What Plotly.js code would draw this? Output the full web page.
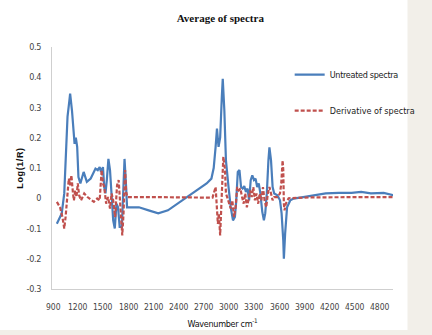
<!DOCTYPE html>
<html>
<head>
<meta charset="utf-8">
<script src="https://cdn.plot.ly/plotly-3.0.1.min.js"></script>
<style>html,body{margin:0;padding:0;background:#fff}#chart{width:432px;height:335px}
#chart .ytick text, #chart .legendtext, #chart .xtitle {letter-spacing:-0.3px}
#chart .ytitle {letter-spacing:0.6px}
</style>
</head>
<body>
<div id="chart"></div>
<script>
const untreatedX = [946,1004,1034,1061,1073,1096,1104,1126,1157,1172,1188,1203,1226,1265,1303,1349,1406,1433,1456,1472,1495,1510,1525,1541,1560,1579,1598,1617,1636,1656,1675,1694,1720,1740,1752,1771,1782,1829,1924,2039,2154,2269,2384,2499,2615,2730,2787,2814,2837,2853,2872,2891,2911,2922,2941,2960,2991,3017,3044,3067,3083,3101,3121,3140,3159,3178,3198,3217,3236,3255,3274,3294,3313,3332,3351,3370,3393,3412,3428,3447,3466,3478,3497,3516,3535,3573,3604,3623,3643,3650,3665,3688,3727,3765,3880,3995,4149,4303,4456,4571,4686,4839,4955];
const untreatedY = [-0.084,-0.05,0.016,0.17,0.27,0.325,0.346,0.29,0.18,0.20,0.17,0.07,0.049,0.087,0.054,0.065,0.098,0.093,0.103,0.087,0.103,0.037,0.016,0.06,0.13,0.093,-0.007,-0.073,-0.1,-0.018,-0.03,-0.095,-0.095,0.016,0.13,0.037,-0.03,-0.03,-0.03,-0.04,-0.05,-0.04,-0.018,0.004,0.026,0.049,0.065,0.10,0.17,0.23,0.17,0.20,0.335,0.395,0.29,0.125,0.037,-0.03,-0.073,-0.062,-0.007,0.087,0.093,0.037,0.032,0.04,0.021,0.032,-0.007,0.06,0.076,0.06,0.065,0.037,0.049,0.016,-0.045,-0.073,-0.05,0.016,0.125,0.168,0.125,0.037,0.016,0.01,-0.007,-0.05,-0.14,-0.2,-0.117,-0.03,-0.007,-0.001,0.004,0.01,0.016,0.018,0.018,0.021,0.016,0.018,0.01];
const derivativeX = [946,984,1012,1034,1050,1073,1088,1104,1119,1138,1149,1165,1180,1195,1211,1234,1272,1311,1349,1387,1426,1456,1479,1495,1510,1533,1556,1579,1598,1617,1640,1663,1682,1702,1725,1740,1759,1771,1786,2000,2400,2800,2837,2853,2864,2876,2891,2911,2929,2949,2960,2979,2998,3017,3036,3056,3075,3094,3113,3132,3152,3171,3190,3209,3228,3248,3267,3286,3305,3324,3344,3363,3382,3401,3420,3440,3459,3478,3497,3516,3535,3573,3604,3619,3635,3643,3650,3658,3673,3707,4000,4500,4955];
const derivativeY = [-0.012,-0.03,-0.062,-0.1,-0.062,0.016,0.065,0.043,0.076,0.016,-0.007,0.026,0.004,0.049,0.01,-0.007,0.016,0.004,-0.004,-0.012,-0.001,-0.007,0.093,0.049,0.037,-0.018,0.004,-0.034,0.016,-0.007,-0.062,0.043,0.06,-0.03,-0.123,-0.05,0.093,0.021,0.004,0.004,0.003,0.002,0.037,-0.03,-0.085,-0.05,-0.123,0.016,0.137,0.093,0.016,0,-0.018,-0.034,-0.007,-0.062,-0.03,0.037,0.026,0.032,0.004,-0.018,0.016,-0.03,-0.007,0.026,0.004,0.037,-0.007,0.016,-0.018,0.016,-0.007,0.037,-0.007,-0.03,0.016,0.037,0.016,-0.007,0.004,0.004,0.016,0.049,0.125,0.093,-0.018,-0.04,-0.018,0,0.003,0.004,0.004];
const xTickVals = [900,1200,1500,1800,2100,2400,2700,3000,3300,3600,3900,4200,4500,4800];
const xTickText = ["900","1200","1500","1800","2100","2400","2700","3000","3300","3600","3900","4200","4500","4800"];
const yTickVals = [0.5,0.4,0.3,0.2,0.1,0,-0.1,-0.2,-0.3];
const yTickText = ["0.5","0.4","0.3","0.2","0.1","0","-0.1","-0.2","-0.3"];

const narrow = "DejaVu Sans Condensed, Liberation Sans, sans-serif";
const traces = [
  {x: untreatedX, y: untreatedY, type: 'scatter', mode: 'lines', name: 'Untreated spectra',
   legend: 'legend', line: {color: '#4A7EBB', width: 2.2}},
  {x: derivativeX, y: derivativeY, type: 'scatter', mode: 'lines', name: 'Derivative of spectra',
   legend: 'legend2', line: {color: '#C0504D', width: 2.2, dash: '4px,2px'}}
];
const xLabelAnnotations = xTickVals.map((v, i) => ({
  x: v, xref: 'x', y: -0.076, yref: 'paper', text: xTickText[i], showarrow: false,
  xanchor: 'center', yanchor: 'middle', font: {family: narrow, size: 8.5, color: '#444'}
}));
const legendFont = {family: narrow, size: 9, color: '#222'};
const layout = {
  width: 432, height: 335,
  margin: {l: 52, r: 27, t: 47, b: 46, pad: 0},
  paper_bgcolor: '#f2efe9', plot_bgcolor: 'rgba(0,0,0,0)',
  showlegend: true,
  title: {text: 'Average of spectra', x: 0.51, xanchor: 'center', y: 0.945, yanchor: 'middle',
          font: {family: 'Liberation Serif, serif', size: 11, color: '#111', weight: 'bold'}},
  xaxis: {range: [888, 4950], tickvals: xTickVals, showticklabels: false, ticks: '', showgrid: false, zeroline: false,
          showline: true, linecolor: '#cfcfcf', linewidth: 1,
          title: {text: 'Wavenumber cm<sup>-1</sup>', standoff: 31, font: {family: narrow, size: 9, color: '#111'}}},
  yaxis: {range: [-0.3, 0.5], tickvals: yTickVals, ticktext: yTickText, ticks: '', showgrid: false,
          zeroline: false, showline: true, linecolor: '#cfcfcf', linewidth: 1,
          tickfont: {family: narrow, size: 9, color: '#444'}, ticklabelstandoff: 8,
          title: {text: 'Log(1/R)', standoff: 0, font: {family: 'Liberation Sans, sans-serif', size: 9, color: '#111', weight: 'bold'}}},
  legend: {x: 0.697, y: 0.946, xanchor: 'left', yanchor: 'top', bgcolor: 'rgba(0,0,0,0)', font: legendFont},
  legend2: {x: 0.697, y: 0.797, xanchor: 'left', yanchor: 'top', bgcolor: 'rgba(0,0,0,0)', font: legendFont},
  annotations: xLabelAnnotations,
  shapes: [
    {type: 'rect', xref: 'paper', yref: 'paper', x0: -0.16, x1: 1.0425, y0: -0.169, y1: 1.2,
     fillcolor: '#ffffff', line: {width: 0}, layer: 'below'}
  ]
};
Plotly.newPlot('chart', traces, layout, {displayModeBar: false, staticPlot: true});
</script>
</body>
</html>
